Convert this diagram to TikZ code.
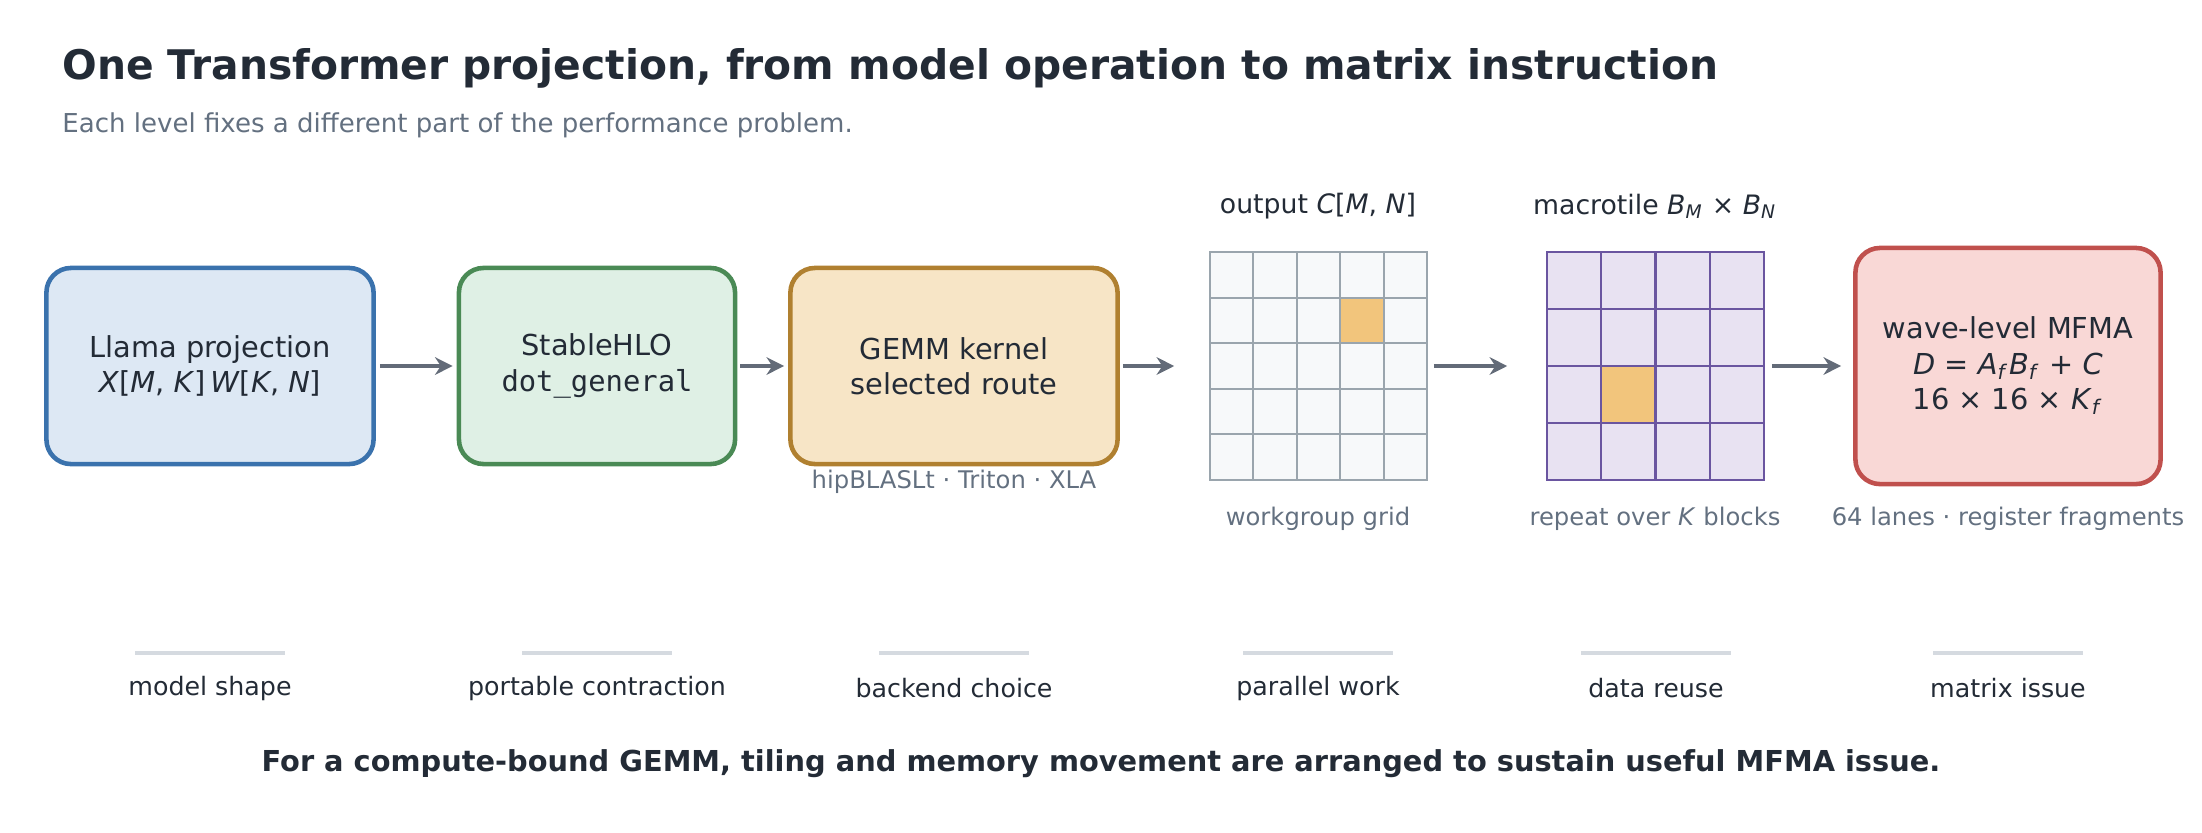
\documentclass[tikz,border=0pt]{standalone}
\usepackage{fontspec}
\setmainfont{DejaVu Sans}
\setmonofont{DejaVu Sans Mono}
\usetikzlibrary{arrows.meta}
\definecolor{ink}{HTML}{232B36}
\definecolor{muted}{HTML}{637080}
\definecolor{arrowgray}{HTML}{636B78}
\definecolor{bluefill}{HTML}{DDE8F4}
\definecolor{blueline}{HTML}{3A72AD}
\definecolor{greenfill}{HTML}{DFF0E5}
\definecolor{greenline}{HTML}{4A8A55}
\definecolor{orangefill}{HTML}{F7E5C6}
\definecolor{orangeline}{HTML}{B08030}
\definecolor{redfill}{HTML}{F9D8D6}
\definecolor{redline}{HTML}{C0504D}
\definecolor{cellfill}{HTML}{F7F9FA}
\definecolor{cellline}{HTML}{9AA5AD}
\definecolor{purplefill}{HTML}{E8E2F2}
\definecolor{purpleline}{HTML}{6A55A0}
\definecolor{hotcell}{HTML}{F2C57C}
\definecolor{rulegray}{HTML}{D5DAE0}
\newcommand{\mv}[1]{\textit{#1}}
\newcommand{\sbs}[1]{\textsubscript{\textit{#1}}}
\tikzset{
	stage/.style={draw, line width=1.3pt, rounded corners=7pt, align=center,
		text=ink, font=\fontsize{8.2}{10}\selectfont, inner sep=0pt},
	flow/.style={-{Stealth[length=5pt,width=5pt]}, draw=arrowgray, line width=1.3pt},
	note/.style={text=muted, font=\fontsize{6.9}{8}\selectfont},
	head/.style={text=ink, font=\fontsize{7.6}{9}\selectfont},
	role/.style={text=ink, font=\fontsize{7.2}{9}\selectfont}
}
\begin{document}
\begin{tikzpicture}[x=0.01cm, y=-0.01cm]
	\useasboundingbox (0,0) rectangle (2202,832);

	%Titel
	\node [anchor=west, text=ink, font=\bfseries\fontsize{11.6}{14}\selectfont] (title) at (50,68)
		{One Transformer projection, from model operation to matrix instruction};
	\node [anchor=west, text=muted, font=\fontsize{7.4}{9}\selectfont] (subtitle) at (50,125)
		{Each level fixes a different part of the performance problem.};

	%Stufen
	\node [stage, fill=bluefill, draw=blueline, minimum width=3.27cm, minimum height=1.96cm] (llama) at (210,366)
		{Llama projection\\\mv{X}[\mv{M}, \mv{K}]\,\mv{W}[\mv{K}, \mv{N}]};
	\node [stage, fill=greenfill, draw=greenline, minimum width=2.76cm, minimum height=1.96cm] (hlo) at (597,366)
		{StableHLO\\\texttt{dot\_general}};
	\node [stage, fill=orangefill, draw=orangeline, minimum width=3.27cm, minimum height=1.96cm] (gemm) at (954,366)
		{GEMM kernel\\selected route};
	\node [note] (routes) at (954,482) {hipBLASLt · Triton · XLA};
	\node [stage, fill=redfill, draw=redline, minimum width=3.05cm, minimum height=2.36cm] (mfma) at (2008,366)
		{wave-level MFMA\\\mv{D} = \mv{A}\sbs{f}\mv{B}\sbs{f} + \mv{C}\\16 × 16 × \mv{K}\sbs{f}};
	\node [note] (lanes) at (2008,519) {64 lanes · register fragments};

	%Gitter
	\node [draw=cellline, fill=cellfill, minimum width=2.17cm, minimum height=2.28cm, inner sep=0pt] (wgrid) at (1318.5,366) {};
	\fill [hotcell] (1340.2,297.6) rectangle (1383.6,343.2);
	\foreach \i in {1,...,4}
	{
		\draw [cellline, line width=0.6pt] (1210+\i*43.4, 252) -- (1210+\i*43.4, 480);
		\draw [cellline, line width=0.6pt] (1210, 252+\i*45.6) -- (1427, 252+\i*45.6);
	}
	\node [head] (outlabel) at (1318,206) {output \mv{C}[\mv{M}, \mv{N}]};
	\node [note] (wlabel) at (1318,519) {workgroup grid};

	\node [draw=purpleline, fill=purplefill, minimum width=2.17cm, minimum height=2.28cm, inner sep=0pt] (tgrid) at (1655.5,366) {};
	\fill [hotcell] (1601.25,366) rectangle (1655.5,423);
	\foreach \i in {1,...,3}
	{
		\draw [purpleline, line width=0.6pt] (1547+\i*54.25, 252) -- (1547+\i*54.25, 480);
		\draw [purpleline, line width=0.6pt] (1547, 252+\i*57) -- (1764, 252+\i*57);
	}
	\draw [purpleline, line width=0.8pt] (1547,252) rectangle (1764,480);
	\node [head] (tlabel) at (1655,206) {macrotile \mv{B}\sbs{M} × \mv{B}\sbs{N}};
	\node [note] (klabel) at (1655,519) {repeat over \mv{K} blocks};

	%Pfeile
	\draw [flow] ([xshift=0.04cm]llama.east) -- ([xshift=-0.04cm]hlo.west);
	\draw [flow] ([xshift=0.03cm]hlo.east) -- ([xshift=-0.04cm]gemm.west);
	\draw [flow] ([xshift=0.03cm]gemm.east) -- ([xshift=-0.35cm]wgrid.west);
	\draw [flow] ([xshift=0.06cm]wgrid.east) -- ([xshift=-0.39cm]tgrid.west);
	\draw [flow] ([xshift=0.07cm]tgrid.east) -- ([xshift=-0.12cm]mfma.west);

	%Rollen
	\foreach \x/\name/\txt in {210/r1/model shape, 597/r2/portable contraction, 954/r3/backend choice,
		1318/r4/parallel work, 1656/r5/data reuse, 2008/r6/matrix issue}
	{
		\draw [rulegray, line width=1.2pt] (\x-75,653) -- (\x+75,653);
		\node [role] (\name) at (\x,688) {\txt};
	}

	\node [text=ink, font=\bfseries\fontsize{8.2}{10}\selectfont] (footer) at (1101,764)
		{For a compute-bound GEMM, tiling and memory movement are arranged to sustain useful MFMA issue.};
\end{tikzpicture}
\end{document}
